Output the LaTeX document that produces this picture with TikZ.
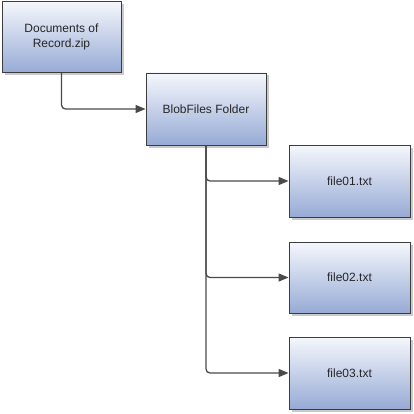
\documentclass[tikz,border=0pt]{standalone}
\usepackage{fontspec}
\setmainfont{Liberation Sans}
\usetikzlibrary{arrows.meta,shadows}
\definecolor{boxtop}{HTML}{F5F7FC}
\definecolor{boxbot}{HTML}{97ABD6}
\definecolor{edge}{HTML}{3C3C3C}
\definecolor{wire}{HTML}{4A4A4A}
\tikzset{
  box/.style={draw=edge, line width=0.9pt, rectangle, top color=boxtop, bottom color=boxbot,
    minimum width=120pt, minimum height=72pt, align=center, inner sep=2pt,
    font=\fontsize{12}{14.5}\selectfont, text=black!85,
    drop shadow={shadow xshift=2.5pt, shadow yshift=-2.5pt, fill=black!35, opacity=0.6}},
  wireline/.style={draw=wire, line width=1.3pt, rounded corners=4pt,
    -{Triangle[length=10pt,width=8pt]}}
}
\begin{document}
\begin{tikzpicture}[x=1pt,y=-1pt]
\useasboundingbox (0,0) rectangle (414,414);
\node[box, minimum width=119pt, minimum height=71pt] (doc) at (61.5,37) {Documents of\\Record.zip};
\node[box] (blob) at (206,109) {BlobFiles Folder};
\node[box, minimum width=121pt] (f1) at (349.5,181) {file01.txt};
\node[box, minimum width=121pt, minimum height=71pt] (f2) at (349.5,277.5) {file02.txt};
\node[box, minimum width=121pt] (f3) at (349.5,373) {file03.txt};
\draw[wireline] (doc.south) |- (blob.west);
\draw[wireline] (blob.south) |- (f1.west);
\draw[wireline] (blob.south) |- (f2.west);
\draw[wireline] (blob.south) |- (f3.west);
\end{tikzpicture}
\end{document}
